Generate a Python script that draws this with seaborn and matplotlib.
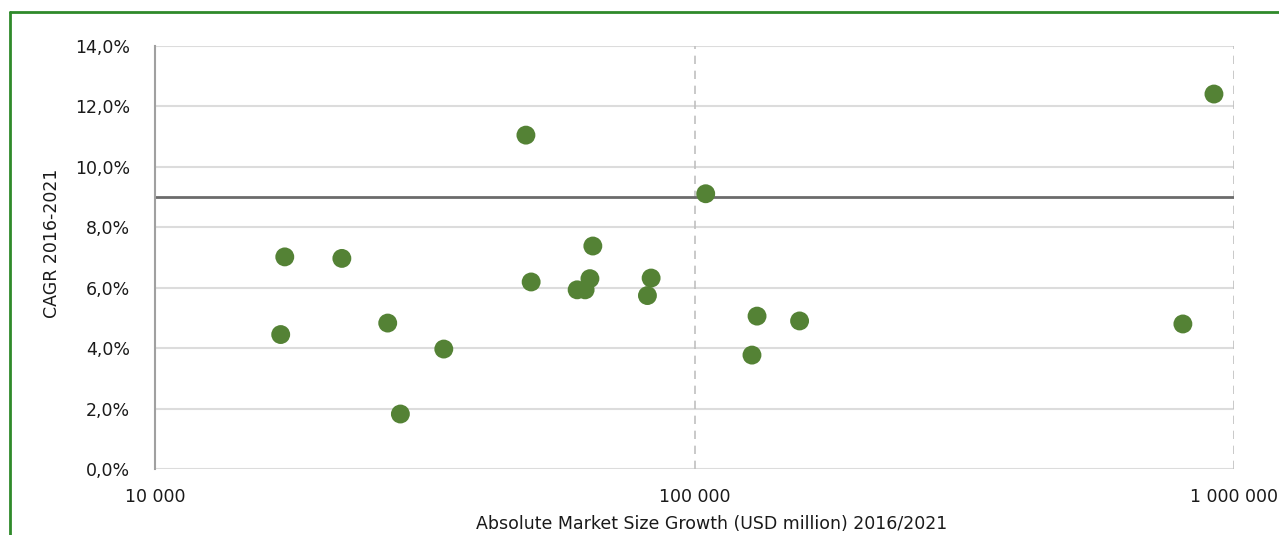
import matplotlib
matplotlib.use("Agg")
import matplotlib.pyplot as plt
from matplotlib.ticker import FuncFormatter, FixedLocator, NullLocator
from matplotlib.lines import Line2D
import pandas as pd
import seaborn as sns

# Absolute market size growth (USD million) and CAGR (%) per market
growth_usd_m = [17100, 17400, 22200, 27000, 28500, 34300, 48700, 49800,
                60600, 62700, 64000, 64800, 83100, 81800, 104900, 127800,
                130600, 156600, 804000, 918000]
cagr_pct = [4.45, 7.02, 6.97, 4.83, 1.82, 3.97, 11.05, 6.19,
            5.93, 5.93, 6.30, 7.38, 6.32, 5.74, 9.11, 3.77,
            5.06, 4.90, 4.80, 12.41]

reference_cagr = 9.0
x_ticks = [10000, 100000, 1000000]
y_ticks = [0, 2, 4, 6, 8, 10, 12, 14]

df = pd.DataFrame({"growth": growth_usd_m, "cagr": cagr_pct})

sns.set_theme(style="white")
plt.rcParams["font.family"] = ["DejaVu Sans"]

W, H = 1279, 535
fig = plt.figure(figsize=(W / 100, H / 100), dpi=100)
ax = fig.add_axes([155 / W, 1 - 469 / H, (1234 - 155) / W, (469 - 46) / H])

# horizontal grid
for yv in y_ticks:
    ax.axhline(yv, color="#dcdcdc", lw=1.5, zorder=0)
# vertical dashed decade markers
for xv in x_ticks[1:]:
    ax.axvline(xv, color="#c0c0c0", lw=1.2, ls=(0, (5, 4)), zorder=0)
# reference CAGR line
ax.axhline(reference_cagr, color="#6b6b6b", lw=2, zorder=1)

sns.scatterplot(data=df, x="growth", y="cagr", ax=ax, s=185,
                color="#548235", edgecolor="none", zorder=3)

ax.set_xscale("log")
ax.set_xlim(10000, 1000000)
ax.set_ylim(0, 14)
ax.xaxis.set_major_locator(FixedLocator(x_ticks))
ax.xaxis.set_minor_locator(NullLocator())
ax.yaxis.set_major_locator(FixedLocator(y_ticks))
ax.xaxis.set_major_formatter(FuncFormatter(lambda v, p: f"{int(round(v)):,}".replace(",", " ")))
ax.yaxis.set_major_formatter(FuncFormatter(lambda v, p: f"{v:.1f}%".replace(".", ",")))
ax.tick_params(axis="both", length=0, labelsize=12.5, colors="#1a1a1a")
ax.tick_params(axis="x", pad=14)
ax.tick_params(axis="y", pad=18)

for side in ["top", "right", "bottom"]:
    ax.spines[side].set_visible(False)
ax.spines["left"].set_color("#a0a0a0")
ax.spines["left"].set_linewidth(1.5)
ax.set_xlabel("")
ax.set_ylabel("")

fig.text(712 / W, 2 / H, "Absolute Market Size Growth (USD million) 2016/2021",
         ha="center", va="bottom", fontsize=12.5, color="#1a1a1a")
fig.text(52 / W, 1 - 243 / H, "CAGR 2016-2021", rotation=90,
         ha="center", va="center", fontsize=12.5, color="#1a1a1a")

# outer frame (top and left edges)
frame = "#2f8a2a"
fig.add_artist(Line2D([9.5 / W, 9.5 / W], [0, 1 - 11.5 / H], transform=fig.transFigure,
                      color=frame, lw=2))
fig.add_artist(Line2D([9.5 / W, 1], [1 - 11.5 / H, 1 - 11.5 / H], transform=fig.transFigure,
                      color=frame, lw=2))

fig.savefig("out.png", dpi=100)
